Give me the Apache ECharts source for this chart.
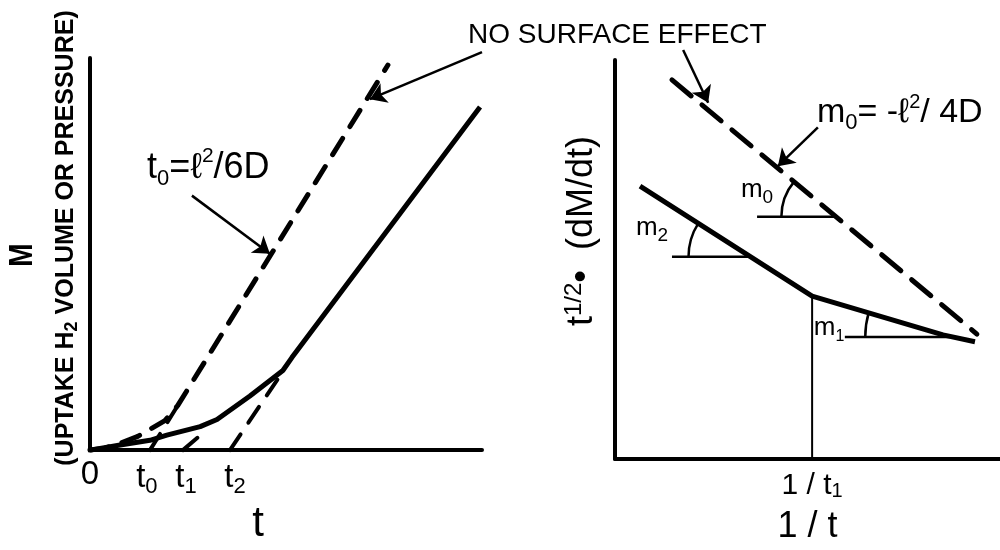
<!DOCTYPE html>
<html><head><meta charset="utf-8">
<script src="https://cdn.jsdelivr.net/npm/echarts@6/dist/echarts.min.js"></script>
<style>html,body{margin:0;padding:0;background:#fff}#c{width:1000px;height:550px}</style>
</head><body><div id="c"></div>
<script>
// ================= DATA (schematic units 0-100 on each panel) =================
// Left panel: M (uptake) vs t
const leftTickValues = [0, 14.5, 24.5, 37];
const leftTickLabels = ['0', '{t|t}{s|0}', '{t|t}{s|1}', '{t|t}{s|2}'];
const leftSolid = [[0,0],[7.7,1.3],[15.3,2.5],[19.6,3.8],[28.1,6.0],[32.4,7.8],[40.8,13.8],[49.2,20.3],[51.5,23.6],[99.5,87.5]];
const leftNoSurfaceCurve = [[0,0],[3.8,0.5],[7.7,1.75],[12.2,3.5],[15.3,5.3],[19.1,7.5],[22.4,11.4],[76.0,98.2]];
const leftT0Asymptote = [[15.3,0],[22.4,11.4]];
const leftT1Tangent = [[23.7,0],[27.6,3.3]];
const leftT2Tangent = [[35.7,0],[49.5,20.5]];
const leftArrows = [[[100,101.5],[71.4,89.5]], [[26,64.9],[45.9,50.1]]];

// Right panel: t^1/2 (dM/dt) vs 1/t
const rightTickValues = [51.2];
const rightTickLabels = ['1 / t{s|1}'];
const rightSolid = [[6.5,68.4],[51.2,40.8],[85.2,31.1],[93.5,29.4]];
const rightNoSurface = [[14.8,95.0],[94.0,31.3]];
const rightT1Drop = [[51.2,0],[51.2,40.8]];
const slopeBaseM0 = [[36.9,60.7],[57.5,60.7]];
const slopeBaseM2 = [[14.8,50.7],[35.2,50.7]];
const slopeBaseM1 = [[59.7,30.6],[87.6,30.6]];
// angle marks: [vertexX, vertexY, pointOnSlopedLineX, pointOnSlopedLineY]
const slopeArcs = [[57.5,60.7,14.8,95.0],[35.2,50.7,6.5,68.4],[87.6,30.6,51.2,40.8]];
const rightArrows = [[[17.7,102.5],[24.2,89.3]], [[52.7,83.1],[42.3,73.4]]];

// ================= STYLE =================
const BLACK = '#000';
const FONT = "'Liberation Sans', 'DejaVu Sans', sans-serif";
const arcRadius = [55, 62, 87];

function axisBase(extra) {
  return Object.assign({
    type: 'value', min: 0, max: 100,
    axisLine: { show: true, onZero: false, lineStyle: { color: BLACK, width: 4 } },
    axisTick: { show: false }, splitLine: { show: false }, axisLabel: { show: false }
  }, extra);
}
function lineSeries(data, idx, dash, width) {
  return {
    type: 'line', xAxisIndex: idx, yAxisIndex: idx, data: data,
    symbol: 'none', showSymbol: false, silent: true, clip: false, animation: false, z: 3,
    lineStyle: { color: BLACK, width: width, type: dash || 'solid', cap: dash ? 'round' : 'butt', join: 'round' }
  };
}
function arrowSeries(arr, idx) {
  return {
    type: 'lines', coordinateSystem: 'cartesian2d', xAxisIndex: idx, yAxisIndex: idx,
    symbol: ['none', 'arrow'], symbolSize: 16, silent: true, clip: false, animation: false, z: 5,
    lineStyle: { color: BLACK, width: 2.5, opacity: 1, curveness: 0 },
    data: arr.map(a => ({ coords: a }))
  };
}
function lookup(vals, labels) {
  return function (v) {
    for (let i = 0; i < vals.length; i++) if (Math.abs(vals[i] - v) < 1e-6) return labels[i];
    return '';
  };
}
const subRich = {
  t: { fontSize: 33, fontFamily: FONT, color: BLACK, lineHeight: 40 },
  s: { fontSize: 22, fontFamily: FONT, color: BLACK, lineHeight: 22, verticalAlign: 'bottom' }
};
function richBig(size, sub, sup) {
  return {
    b: { fontSize: size, fontFamily: FONT, fill: BLACK, lineHeight: size + 8 },
    s: { fontSize: sub, fontFamily: FONT, fill: BLACK, lineHeight: sub, verticalAlign: 'bottom' },
    p: { fontSize: sup, fontFamily: FONT, fill: BLACK, lineHeight: sup, verticalAlign: 'top' }
  };
}

const option = {
  backgroundColor: '#fff',
  animation: false,
  grid: [
    { left: 90, top: 58, width: 392, height: 399 },
    { left: 615, top: 60, width: 385, height: 402 }
  ],
  xAxis: [
    axisBase({
      gridIndex: 0, name: 't', nameLocation: 'middle', nameGap: 46,
      nameTextStyle: { fontFamily: FONT, fontSize: 42, color: BLACK, padding: [0, 56, 0, 0] },
      axisLabel: { show: true, customValues: leftTickValues, formatter: lookup(leftTickValues, leftTickLabels),
        margin: 8, fontFamily: FONT, fontSize: 33, color: BLACK, rich: subRich }
    }),
    axisBase({
      gridIndex: 1, name: '1 / t', nameLocation: 'middle', nameGap: 50,
      nameTextStyle: { fontFamily: FONT, fontSize: 36, color: BLACK },
      axisLabel: { show: true, customValues: rightTickValues, formatter: lookup(rightTickValues, rightTickLabels),
        margin: 12, fontFamily: FONT, fontSize: 30, color: BLACK,
        rich: { s: { fontSize: 20, fontFamily: FONT, color: BLACK, lineHeight: 20, verticalAlign: 'bottom' } } }
    })
  ],
  yAxis: [ axisBase({ gridIndex: 0 }), axisBase({ gridIndex: 1 }) ],
  series: [
    lineSeries(leftSolid, 0, null, 5),
    lineSeries(leftNoSurfaceCurve, 0, [19, 14], 5),
    lineSeries(leftT0Asymptote, 0, [19, 14], 4),
    lineSeries(leftT1Tangent, 0, [19, 14], 4),
    lineSeries(leftT2Tangent, 0, [19, 14], 4),
    arrowSeries(leftArrows, 0),
    lineSeries(rightSolid, 1, null, 5),
    lineSeries(rightNoSurface, 1, [25, 14], 5),
    lineSeries(rightT1Drop, 1, null, 2),
    lineSeries(slopeBaseM0, 1, null, 2.5),
    lineSeries(slopeBaseM2, 1, null, 2.5),
    lineSeries(slopeBaseM1, 1, null, 2.5),
    {
      type: 'custom', xAxisIndex: 1, yAxisIndex: 1, data: slopeArcs, silent: true, clip: false, z: 4,
      encode: { x: [0, 2], y: [1, 3] },
      renderItem: function (params, api) {
        const c = api.coord([api.value(0), api.value(1)]);
        const p = api.coord([api.value(2), api.value(3)]);
        const theta = Math.atan2(c[1] - p[1], c[0] - p[0]);
        return {
          type: 'arc',
          shape: { cx: c[0], cy: c[1], r: arcRadius[params.dataIndex], startAngle: Math.PI, endAngle: Math.PI + theta, clockwise: true },
          style: { stroke: BLACK, lineWidth: 2.5, fill: null }
        };
      }
    },
    arrowSeries(rightArrows, 1)
  ],
  graphic: [
    { type: 'text', x: 468, y: 35, silent: true,
      style: { text: 'NO SURFACE EFFECT', fontFamily: FONT, fontSize: 28, fill: BLACK, align: 'left', verticalAlign: 'middle' } },
    { type: 'text', x: 147, y: 168, silent: true,
      style: { text: '{b|t}{s|0}{b|=ℓ}{p|2}{b|/6D}', align: 'left', verticalAlign: 'middle', rich: richBig(36, 22, 21) } },
    { type: 'text', x: 817, y: 113, silent: true,
      style: { text: '{b|m}{s|0}{b|= -ℓ}{p|2}{b|/ 4D}', align: 'left', verticalAlign: 'middle', rich: richBig(34, 22, 20) } },
    { type: 'text', x: 757, y: 190, silent: true,
      style: { text: '{b|m}{s|0}', align: 'center', verticalAlign: 'middle', rich: richBig(26, 19, 18) } },
    { type: 'text', x: 652, y: 228, silent: true,
      style: { text: '{b|m}{s|2}', align: 'center', verticalAlign: 'middle', rich: richBig(26, 19, 18) } },
    { type: 'text', x: 829, y: 328, silent: true,
      style: { text: '{b|m}{s|1}', align: 'center', verticalAlign: 'middle', rich: richBig(26, 16, 16) } },
    { type: 'text', x: 23, y: 255, rotation: Math.PI / 2, scaleY: 1.2, silent: true,
      style: { text: 'M', fontFamily: FONT, fontSize: 28, fontWeight: 'bold', fill: BLACK, align: 'center', verticalAlign: 'middle' } },
    { type: 'text', x: 66, y: 238, rotation: Math.PI / 2, silent: true,
      style: { text: '{b|(UPTAKE H}{s|2}{b| VOLUME OR PRESSURE)}', align: 'center', verticalAlign: 'middle',
        rich: { b: { fontSize: 25, fontWeight: 'bold', fontFamily: FONT, fill: BLACK, lineHeight: 30 },
                s: { fontSize: 18, fontWeight: 'bold', fontFamily: FONT, fill: BLACK, lineHeight: 18, verticalAlign: 'bottom' } } } },
    { type: 'text', x: 582, y: 231, rotation: Math.PI / 2, silent: true,
      style: { text: '{b|t}{p|1/2}{b|•  (dM/dt)}', align: 'center', verticalAlign: 'middle',
        rich: { b: { fontSize: 36, fontFamily: FONT, fill: BLACK, lineHeight: 40 },
                p: { fontSize: 24, fontFamily: FONT, fill: BLACK, lineHeight: 24, verticalAlign: 'top' } } } }
  ]
};
const chart = echarts.init(document.getElementById('c'));
chart.setOption(option);
</script>
</body></html>
